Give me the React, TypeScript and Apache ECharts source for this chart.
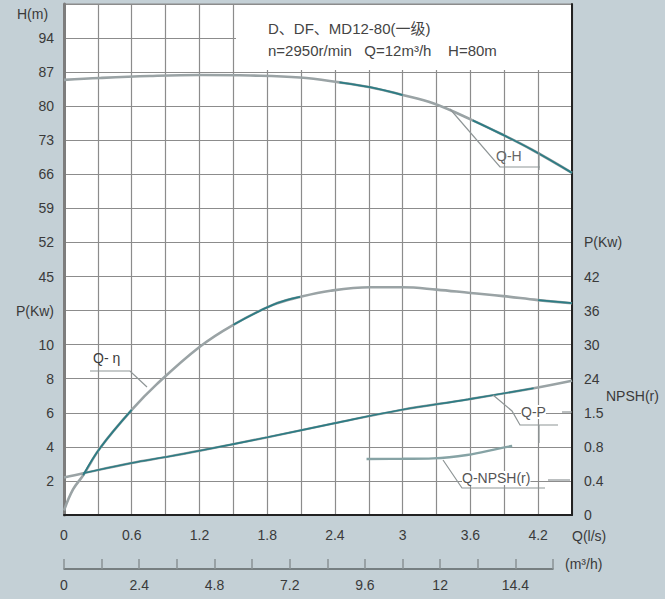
import React, { useEffect, useRef } from "react";
import * as echarts from "echarts";

// ---- data ----
const Q_H = [0, 0.32, 0.76, 1.2, 1.65, 2.09, 2.44, 2.71, 3.0, 3.27, 3.62, 3.89, 4.15, 4.5];
const H_VALUES = [85.4, 85.8, 86.2, 86.4, 86.3, 85.9, 84.9, 83.9, 82.3, 80.6, 77.1, 74.1, 71.0, 66.3];
const H_TEAL = [[6, 8], [10, 13]];

const Q_ETA = [0, 0.08, 0.17, 0.32, 0.6, 0.82, 1.2, 1.5, 1.85, 2.09, 2.36, 2.71, 3.0, 3.3, 3.6, 3.89, 4.2, 4.5];
const ETA_VALUES = [0.8, 4.5, 7.0, 11.8, 18.5, 23.0, 29.6, 33.5, 37.0, 38.4, 39.5, 40.1, 40.1, 39.7, 39.1, 38.55, 37.85, 37.3];
const ETA_TEAL = [[2, 4], [7, 9], [16, 17]];

const Q_P = [0, 0.17, 0.6, 0.9, 1.2, 1.8, 2.39, 2.98, 3.58, 4.16, 4.5];
const P_VALUES = [2.2, 2.45, 3.05, 3.4, 3.77, 4.56, 5.38, 6.16, 6.79, 7.44, 7.88];
const P_TEAL = [[1, 6], [7, 9]];

const Q_NPSH = [2.68, 3.0, 3.27, 3.57, 3.86, 3.97];
const NPSH_VALUES = [0.657, 0.66, 0.665, 0.704, 0.783, 0.81];

const Q_LS_LABELS = ["0", "0.6", "1.2", "1.8", "2.4", "3", "3.6", "4.2"];
const Q_M3H_LABELS = ["0", "2.4", "4.8", "7.2", "9.6", "12", "14.4"];
const H_TICKS = [45, 52, 59, 66, 73, 80, 87, 94];
const P_TICKS = [2, 4, 6, 8, 10];
const ETA_TICKS = [24, 30, 36, 42];
const NPSH_TICK_LABELS = ["0", "0.4", "0.8", "1.5"];

const TITLE_LINE_1 = "D、DF、MD12-80(一级)";
const TITLE_LINE_2 = "n=2950r/min   Q=12m³/h    H=80m";

const FONT = "'Liberation Sans', Arial, 'Noto Sans CJK SC', sans-serif";
const GRAY = "#9aa3a5";
const TEAL = "#2d7c84";
const TXT = "#3a3a3a";
const LEAD = "#8e9596";

function pairs(qs: number[], vs: number[]) {
  return qs.map((q, i) => [q, vs[i]]);
}
function overlay(qs: number[], vs: number[], ranges: number[][]) {
  return qs.map((q, i) =>
    ranges.some(([a, b]) => i >= a && i <= b) ? [q, vs[i]] : [q, null]
  );
}

export default function App() {
  const ref = useRef<HTMLDivElement>(null);
  useEffect(() => {
    if (!ref.current) return;
    const chart = echarts.init(ref.current, undefined, { renderer: "svg" });
    const lbl = { color: TXT, fontSize: 14, fontFamily: FONT };
    const line = (data: any, yAxisIndex: number, color: string, width: number, z: number) => ({
      type: "line",
      xAxisIndex: 0,
      yAxisIndex,
      data,
      smooth: 0.4,
      symbol: "none",
      connectNulls: false,
      lineStyle: { color, width },
      z,
      silent: true,
    });
    const leader = (points: number[][]) => ({
      type: "polyline",
      shape: { points },
      style: { stroke: LEAD, lineWidth: 1.2, fill: null },
      z: 20,
    });
    const text = (x: number, y: number, t: string, extra: any = {}, size = 14) => ({
      type: "text",
      x,
      y,
      style: {
        text: t,
        fill: TXT,
        font: `${size}px ${FONT}`,
        textVerticalAlign: "middle",
        ...extra,
      },
      z: 21,
    });
    chart.setOption({
      animation: false,
      backgroundColor: "#c4d0d6",
      grid: [
        {
          left: 64, top: 4, width: 508, height: 511,
          show: true, backgroundColor: "#ffffff", borderColor: "#8a8a8a", borderWidth: 1,
        },
        { left: 64, top: 568, width: 489, height: 1, show: false },
      ],
      xAxis: [
        {
          type: "value", gridIndex: 0, min: 0, max: 4.5, interval: 0.3,
          axisLine: { show: true, onZero: false, lineStyle: { color: "#222", width: 2 } },
          axisTick: { show: false },
          splitLine: { show: true, lineStyle: { color: "#8c8c8c", width: 1.2 } },
          axisLabel: {
            ...lbl, margin: 13,
            formatter: (v: number) => {
              const k = Math.round(v / 0.3);
              if (k % 2 !== 0) return "";
              return Q_LS_LABELS[k / 2] ?? "";
            },
          },
        },
        {
          type: "value", gridIndex: 1, position: "bottom", min: 0, max: 15.6, interval: 1.2,
          axisLine: { show: true, onZero: false, lineStyle: { color: "#5d6466", width: 1.5 } },
          axisTick: { show: true, inside: true, length: 10, lineStyle: { color: "#8a9294", width: 1.5 } },
          splitLine: { show: false },
          axisLabel: {
            ...lbl, margin: 9,
            formatter: (v: number) => {
              const k = Math.round(v / 1.2);
              if (k % 2 !== 0) return "";
              return Q_M3H_LABELS[k / 2] ?? "";
            },
          },
        },
      ],
      yAxis: [
        {
          type: "value", gridIndex: 0, position: "left", min: -4, max: 101, interval: 7,
          axisLine: { show: true, onZero: false, lineStyle: { color: "#7d7d7d", width: 3 } },
          axisTick: { show: false },
          splitLine: { show: true, lineStyle: { color: "#8c8c8c", width: 1.2 } },
          axisLabel: {
            ...lbl, margin: 10,
            formatter: (v: number) => (H_TICKS.includes(Math.round(v)) ? String(Math.round(v)) : ""),
          },
        },
        {
          type: "value", gridIndex: 0, position: "left", min: 0, max: 30, interval: 2,
          axisLine: { show: false }, axisTick: { show: false }, splitLine: { show: false },
          axisLabel: {
            ...lbl, margin: 10,
            formatter: (v: number) => {
              const r = Math.round(v);
              if (P_TICKS.includes(r)) return String(r);
              if (r === 12) return "P(Kw)";
              return "";
            },
          },
        },
        {
          type: "value", gridIndex: 0, position: "right", min: 0, max: 90, interval: 6,
          axisLine: { show: true, onZero: false, lineStyle: { color: "#222", width: 2 } },
          axisTick: { show: false }, splitLine: { show: false },
          axisLabel: {
            ...lbl, margin: 12,
            formatter: (v: number) => {
              const r = Math.round(v);
              if (ETA_TICKS.includes(r)) return String(r);
              if (r === 48) return "P(Kw)";
              return "";
            },
          },
        },
        {
          type: "value", gridIndex: 0, position: "right", min: 0, max: 6, interval: 0.4,
          axisLine: { show: false }, axisTick: { show: false }, splitLine: { show: false },
          axisLabel: {
            ...lbl, margin: 12,
            formatter: (v: number) => NPSH_TICK_LABELS[Math.round(v / 0.4)] ?? "",
          },
        },
        {
          type: "value", gridIndex: 1, show: false, min: 0, max: 1,
        },
      ],
      series: [
        line(pairs(Q_H, H_VALUES), 0, GRAY, 2.6, 3),
        line(overlay(Q_H, H_VALUES, H_TEAL), 0, TEAL, 1.8, 4),
        line(pairs(Q_ETA, ETA_VALUES), 2, GRAY, 2.6, 3),
        line(overlay(Q_ETA, ETA_VALUES, ETA_TEAL), 2, TEAL, 1.8, 4),
        line(pairs(Q_P, P_VALUES), 1, GRAY, 2.4, 3),
        line(overlay(Q_P, P_VALUES, P_TEAL), 1, TEAL, 1.6, 4),
        line(pairs(Q_NPSH, NPSH_VALUES), 3, "#86a3a5", 2.4, 3),
      ],
      graphic: [
        { type: "rect", shape: { x: 236, y: 5, width: 335, height: 65 }, style: { fill: "#ffffff" }, z: 10 },
        text(268, 28, TITLE_LINE_1, { fill: "#444" }, 15),
        text(268, 50, TITLE_LINE_2, { fill: "#444" }, 15),
        text(17, 14, "H(m)"),
        text(572, 536, "Q(l/s)"),
        text(565, 564, "(m³/h)"),
        text(606, 396, "NPSH(r)"),
        // Q-H
        leader([[450, 109], [500, 167], [540, 167]]),
        leader([[539, 152], [539, 170]]),
        text(496, 156, "Q-H", { fill: "#666" }),
        // Q-eta
        leader([[90, 371], [130, 371], [147, 387]]),
        text(93, 358, "Q- η"),
        // Q-P
        leader([[493, 395], [512, 411], [520, 425], [558, 425]]),
        leader([[539, 425], [539, 443]]),
        leader([[562, 412], [572, 412]]),
        text(521, 412, "Q-P", { fill: "#555", backgroundColor: "#fff" }),
        // Q-NPSH
        leader([[443, 460], [462, 488], [545, 488]]),
        leader([[548, 480], [570, 480]]),
        text(462, 478, "Q-NPSH(r)", { fill: "#555", backgroundColor: "#fff" }),
      ],
    });
    return () => chart.dispose();
  }, []);
  return (
    <div
      ref={ref}
      style={{ position: "absolute", left: 0, top: 0, width: 665, height: 599 }}
    />
  );
}
